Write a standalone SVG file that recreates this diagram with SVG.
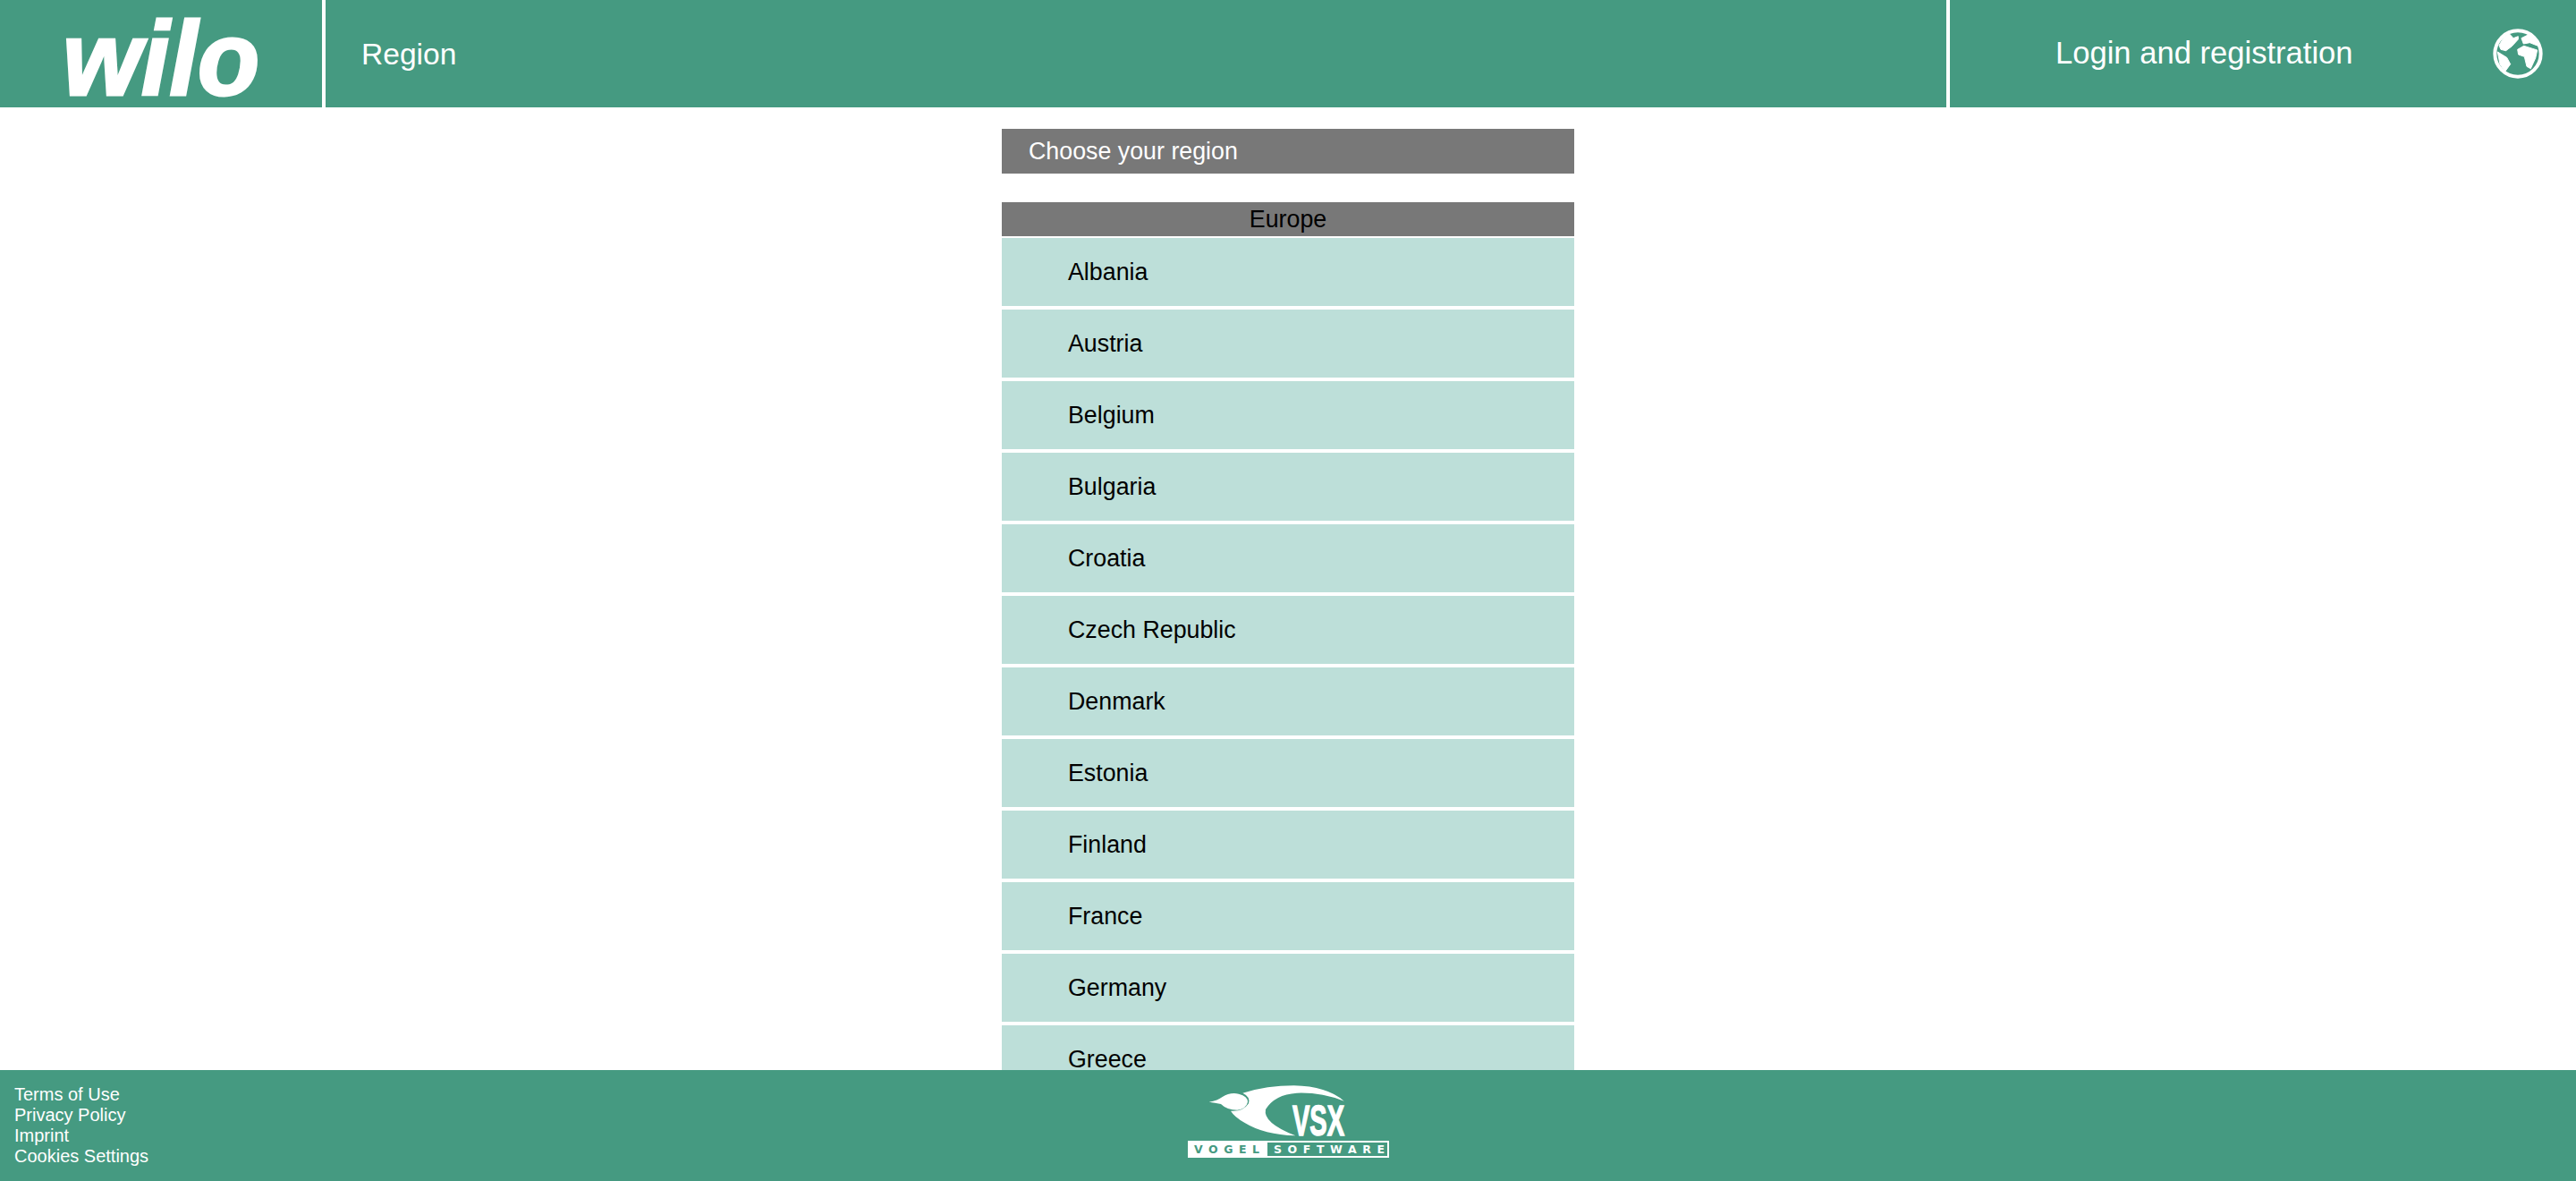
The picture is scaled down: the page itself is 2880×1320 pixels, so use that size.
<svg xmlns="http://www.w3.org/2000/svg" width="2880" height="1320" viewBox="0 0 2880 1320">
<style>
text{font-family:"Liberation Sans",Arial,Helvetica,sans-serif}
.bar{fill:#459a81}.gray{fill:#787878}.row{fill:#bddfd9}
.t{font-size:26.8px;fill:#000}.w{fill:#fff}
.ft{font-size:20px;fill:#fff}
.logo{font-weight:700}
.wide{font-family:"DejaVu Sans",sans-serif;font-weight:700;font-size:12.5px}
.land{fill:#fff;stroke:#fff;stroke-width:3;stroke-linejoin:round}
</style>
<rect width="2880" height="1320" fill="#fff"/>
<g id="list">
<g id="row-albania"><rect class="row" x="1120" y="266" width="640" height="76"/><text class="t" x="1194" y="313">Albania</text></g>
<g id="row-austria"><rect class="row" x="1120" y="346" width="640" height="76"/><text class="t" x="1194" y="393">Austria</text></g>
<g id="row-belgium"><rect class="row" x="1120" y="426" width="640" height="76"/><text class="t" x="1194" y="473">Belgium</text></g>
<g id="row-bulgaria"><rect class="row" x="1120" y="506" width="640" height="76"/><text class="t" x="1194" y="553">Bulgaria</text></g>
<g id="row-croatia"><rect class="row" x="1120" y="586" width="640" height="76"/><text class="t" x="1194" y="633">Croatia</text></g>
<g id="row-czech"><rect class="row" x="1120" y="666" width="640" height="76"/><text class="t" x="1194" y="713">Czech Republic</text></g>
<g id="row-denmark"><rect class="row" x="1120" y="746" width="640" height="76"/><text class="t" x="1194" y="793">Denmark</text></g>
<g id="row-estonia"><rect class="row" x="1120" y="826" width="640" height="76"/><text class="t" x="1194" y="873">Estonia</text></g>
<g id="row-finland"><rect class="row" x="1120" y="906" width="640" height="76"/><text class="t" x="1194" y="953">Finland</text></g>
<g id="row-france"><rect class="row" x="1120" y="986" width="640" height="76"/><text class="t" x="1194" y="1033">France</text></g>
<g id="row-germany"><rect class="row" x="1120" y="1066" width="640" height="76"/><text class="t" x="1194" y="1113">Germany</text></g>
<g id="row-greece"><rect class="row" x="1120" y="1146" width="640" height="76"/><text class="t" x="1194" y="1193">Greece</text></g>
</g>
<g id="title"><rect class="gray" x="1120" y="144" width="640" height="50"/><text class="t" style="fill:#fff" x="1150" y="178">Choose your region</text></g>
<g id="europe"><rect class="gray" x="1120" y="226" width="640" height="38"/><text class="t" x="1440" y="254" text-anchor="middle">Europe</text></g>
<g id="header">
<rect class="bar" width="2880" height="120"/>
<rect class="w" x="360" width="4" height="120"/>
<rect class="w" x="2176" width="4" height="120"/>
<text id="wilo" class="logo w" x="70" y="106" font-size="117" font-style="italic" textLength="220" lengthAdjust="spacingAndGlyphs" stroke="#fff" stroke-width="3">wilo</text>
<text class="w" x="404" y="72" font-size="33.6">Region</text>
<text class="w" x="2298" y="71" font-size="34.6">Login and registration</text>
<g id="globe" transform="translate(2760 20) scale(.3333)">
<circle cx="165" cy="120" r="77" fill="none" stroke="#fff" stroke-width="12"/>
<path class="land" d="M102 92 L118 65 L135 52 L150 68 L166 62 L166 72 L145 95 L125 110 L108 106Z"/>
<path class="land" d="M97 114 L128 133 L140 155 L122 180 L105 155Z"/>
<path class="land" d="M164 106 L185 94 L230 108 L224 135 L208 170 L195 163 L187 130 L167 123Z"/>
<path class="land" d="M177 68 L205 54 L233 78 L238 96 L205 83 L184 87Z"/>
</g>
</g>
<g id="footer">
<rect class="bar" y="1196" width="2880" height="124"/>
<text class="ft" x="16" y="1230">Terms of Use</text>
<text class="ft" x="16" y="1253">Privacy Policy</text>
<text class="ft" x="16" y="1276">Imprint</text>
<text class="ft" x="16" y="1299">Cookies Settings</text>
<g id="vsx-logo">
<g transform="translate(1300 1190) scale(.3333)">
<path class="w" d="M155 125 Q185 120 200 108 Q225 92 255 98 Q285 105 285 125 Q280 148 250 152 Q215 152 195 132 Q175 128 155 125Z"/>
<path class="w" d="M268 95 Q350 70 440 70 Q550 72 608 122 Q530 92 450 95 Q375 100 345 150 Q335 195 445 238 Q340 235 275 195 Q240 175 228 155 Q270 158 288 130 Q295 108 268 95Z"/>
</g>
<text class="logo w" x="1445" y="1269" font-size="49" textLength="58" lengthAdjust="spacingAndGlyphs" stroke="#fff" stroke-width="1.5">VSX</text>
<rect x="1329" y="1276" width="223" height="17" fill="none" stroke="#fff" stroke-width="2"/>
<rect class="w" x="1329" y="1276" width="88" height="17"/>
<text class="wide" x="1335" y="1289" fill="#459a81" textLength="73">VOGEL</text>
<text class="wide w" x="1424" y="1289" textLength="124">SOFTWARE</text>
</g>
</g>
</svg>
